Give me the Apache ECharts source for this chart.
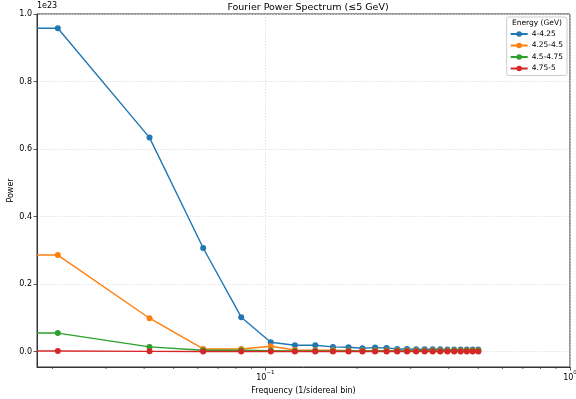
<!DOCTYPE html>
<html>
<head>
<meta charset="utf-8">
<script src="https://cdn.jsdelivr.net/npm/echarts@6/dist/echarts.min.js"></script>
<style>html,body{margin:0;padding:0;background:#fff}#c{width:576px;height:399px}</style>
</head>
<body>
<div id="c"></div>
<script>
// Frequencies k/48, k = 1..24 (1/sidereal bin)
const frequencies = [1,2,3,4,5,6,7,8,9,10,11,12,13,14,15,16,17,18,19,20,21,22,23,24].map(k => k / 48);
// Power values in units of 1e23
const seriesNames = ['4-4.25', '4.25-4.5', '4.5-4.75', '4.75-5'];
const power_4_425 = [0.958, 0.634, 0.307, 0.102, 0.028, 0.019, 0.019, 0.014, 0.013, 0.010, 0.012, 0.011, 0.008, 0.008, 0.007, 0.007, 0.007, 0.007, 0.006, 0.006, 0.006, 0.006, 0.006, 0.006];
const power_425_45 = [0.286, 0.099, 0.008, 0.008, 0.016, 0.005, 0.004, 0.004, 0.003, 0.003, 0.003, 0.003, 0.003, 0.003, 0.003, 0.003, 0.003, 0.003, 0.003, 0.003, 0.003, 0.003, 0.003, 0.003];
const power_45_475 = [0.055, 0.014, 0.004, 0.004, 0.003, 0.002, 0.002, 0.002, 0.002, 0.002, 0.002, 0.002, 0.002, 0.002, 0.002, 0.002, 0.002, 0.002, 0.002, 0.002, 0.002, 0.002, 0.002, 0.002];
const power_475_5 = [0.002, 0.0008, 0.0005, 0.0005, 0.0005, 0.0005, 0.0005, 0.0005, 0.0005, 0.0005, 0.0005, 0.0005, 0.0005, 0.0005, 0.0005, 0.0005, 0.0005, 0.0005, 0.0005, 0.0005, 0.0005, 0.0005, 0.0005, 0.0005];
const yTickLabels = ['0.0', '0.2', '0.4', '0.6', '0.8', '1.0'];
const minorTickValues = [0.02,0.03,0.04,0.05,0.06,0.07,0.08,0.09,0.2,0.3,0.4,0.5,0.6,0.7,0.8,0.9];

const X_MIN = 0.0178, X_MAX = 1.0;
const Y_MIN = -0.0455, Y_MAX = 1.0;
const colors = ['#1f77b4', '#ff7f0e', '#2ca02c', '#d62728'];
const allPower = [power_4_425, power_425_45, power_45_475, power_475_5];
const FONT = 'DejaVu Sans';

const chart = echarts.init(document.getElementById('c'), null, {renderer: 'canvas'});

const lineSeries = allPower.map((vals, i) => ({
  name: seriesNames[i],
  type: 'line',
  data: [{value: [X_MIN, vals[0]], symbol: 'none'}].concat(frequencies.map((f, j) => [f, vals[j]])),
  symbol: 'circle',
  symbolSize: 6,
  showAllSymbol: true,
  lineStyle: {width: 1.4, color: colors[i]},
  itemStyle: {color: colors[i]},
  z: 3 + i,
  clip: true,
  animation: false
}));

const minorTickSeries = {
  type: 'custom',
  silent: true,
  clip: false,
  data: minorTickValues.map(v => [v, Y_MIN]),
  renderItem: function (params, api) {
    const p = api.coord([api.value(0), Y_MIN]);
    return {
      type: 'line',
      shape: {x1: p[0], y1: p[1], x2: p[0], y2: p[1] + 2},
      style: {stroke: '#333', lineWidth: 0.8}
    };
  },
  z: 10,
  animation: false
};

chart.setOption({
  backgroundColor: '#fff',
  animation: false,
  color: colors,
  textStyle: {fontFamily: FONT},
  title: {
    text: 'Fourier Power Spectrum (≤5 GeV)',
    left: 303, top: -2, textAlign: 'center',
    textStyle: {fontFamily: FONT, fontSize: 9.5, fontWeight: 'normal', color: '#000'}
  },
  grid: {left: 37, right: 6, top: 14, bottom: 32, show: true, borderColor: '#333', borderWidth: 1,
    containLabel: false, outerBoundsMode: 'none'},
  legend: {
    data: seriesNames,
    orient: 'vertical',
    right: 9, top: 17,
    padding: [13, 4, 3, 3],
    itemGap: 3.5,
    itemWidth: 17, itemHeight: 7,
    borderColor: '#ccc', borderWidth: 1, borderRadius: 2,
    backgroundColor: 'rgba(255,255,255,0.8)',
    textStyle: {fontFamily: FONT, fontSize: 7.5, color: '#000', padding: [0, 0, 0, -1]}
  },
  xAxis: {
    type: 'log', logBase: 10, min: X_MIN, max: X_MAX,
    name: 'Frequency (1/sidereal bin)', nameLocation: 'middle', nameGap: 20, nameMoveOverlap: false,
    nameTextStyle: {fontFamily: FONT, fontSize: 8, color: '#000'},
    axisLine: {show: true, onZero: false, lineStyle: {color: '#333', width: 1}},
    axisTick: {show: true, inside: false, length: 3.5, lineStyle: {color: '#333', width: 0.8}},
    axisLabel: {
      show: true, margin: 3, color: '#000', fontFamily: FONT, fontSize: 8,
      showMinLabel: false,
      formatter: function (v) {
        const l = Math.log10(v);
        if (Math.abs(l - Math.round(l)) < 1e-6) {
          const e = Math.round(l);
          return '{b|10}{s|' + (e < 0 ? '\u2212' + (-e) : e) + '}';
        }
        return '';
      },
      rich: {
        b: {fontFamily: FONT, fontSize: 8, color: '#000', verticalAlign: 'bottom', lineHeight: 12},
        s: {fontFamily: FONT, fontSize: 5.5, color: '#000', verticalAlign: 'top', lineHeight: 12, padding: [0, 0, 5, 0]}
      }
    },
    splitLine: {show: true, lineStyle: {color: '#dcdcdc', width: 0.8, type: [1.5, 1.5]}},
    minorTick: {show: false},
    minorSplitLine: {show: false}
  },
  yAxis: {
    type: 'value', min: Y_MIN, max: Y_MAX, splitNumber: 5,
    name: 'Power', nameLocation: 'middle', nameGap: 22, nameRotate: 90, nameMoveOverlap: false,
    nameTextStyle: {fontFamily: FONT, fontSize: 8, color: '#000'},
    axisLine: {show: true, onZero: false, lineStyle: {color: '#333', width: 1}},
    axisTick: {show: true, inside: false, length: 3.5, lineStyle: {color: '#333', width: 0.8},
      customValues: yTickLabels.map(Number)},
    axisLabel: {
      color: '#000', fontFamily: FONT, fontSize: 8, margin: 5,
      customValues: yTickLabels.map(Number),
      formatter: function (v) {
        const idx = yTickLabels.map(Number).findIndex(t => Math.abs(t - v) < 1e-6);
        return idx >= 0 ? yTickLabels[idx] : '';
      }
    },
    splitLine: {show: true, lineStyle: {color: '#dcdcdc', width: 0.8, type: [1.5, 1.5]}}
  },
  graphic: [
    {type: 'text', left: 37, top: 2, style: {text: '1e23', fontFamily: FONT, fontSize: 8, fill: '#000'}, z: 100},
    {type: 'text', right: 14, top: 19, style: {text: 'Energy (GeV)', fontFamily: FONT, fontSize: 7.5, fill: '#000'}, z: 100}
  ],
  series: lineSeries.concat([minorTickSeries])
});
</script>
</body>
</html>
